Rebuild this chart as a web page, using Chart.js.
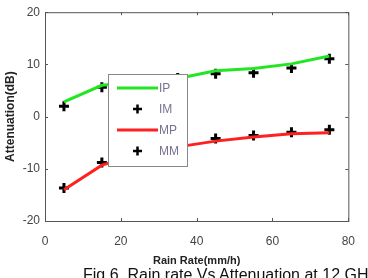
<!DOCTYPE html>
<html>
<head>
<meta charset="utf-8">
<script src="https://cdn.jsdelivr.net/npm/chart.js@4/dist/chart.umd.min.js"></script>
<style>
  body { margin: 0; background: #fff; width: 368px; height: 278px; overflow: hidden; position: relative; }
  #wrap { position: absolute; left: 0; top: 0; width: 368px; height: 278px; }
  #caption { position: absolute; left: 83px; top: 266px; font: 16px "Liberation Sans", Arial, sans-serif; color: #111; white-space: nowrap; }
</style>
</head>
<body>
<div id="wrap"><canvas id="rainChart" width="368" height="278"></canvas></div>
<div id="caption">Fig.6. Rain rate Vs Attenuation at 12 GHz</div>
<script>
// rain rate (mm/h)
const rainRates = [5, 15, 25, 35, 45, 55, 65, 75];
// attenuation (dB)
const ipValues = [2.8, 6.0, 6.7, 7.3, 8.8, 9.2, 10.1, 11.6];
const imValues = [2.0, 5.6, 6.5, 7.4, 8.2, 8.4, 9.3, 11.1];
const mpValues = [-14.0, -9.3, -7.2, -5.8, -4.7, -3.9, -3.3, -3.1];
const mmValues = [-13.7, -8.8, -6.9, -5.6, -4.2, -3.6, -3.0, -2.5];
const xTicks = [0, 20, 40, 60, 80];
const yTicks = [-20, -10, 0, 10, 20];

const toPoints = vals => vals.map((v, i) => ({ x: rainRates[i], y: v }));

const frameAndTicks = {
  id: 'frameAndTicks',
  afterDatasetsDraw(chart) {
    const { ctx, chartArea: a, scales: { x, y } } = chart;
    ctx.save();
    ctx.strokeStyle = '#555';
    ctx.lineWidth = 1;
    ctx.strokeRect(a.left + 0.5, a.top + 0.5, a.right - a.left, a.bottom - a.top);
    ctx.beginPath();
    xTicks.forEach(t => {
      const px = Math.round(x.getPixelForValue(t)) + 0.5;
      ctx.moveTo(px, a.bottom); ctx.lineTo(px, a.bottom - 3);
      ctx.moveTo(px, a.top); ctx.lineTo(px, a.top + 3);
    });
    yTicks.forEach(t => {
      const py = Math.round(y.getPixelForValue(t)) + 0.5;
      ctx.moveTo(a.left, py); ctx.lineTo(a.left + 3, py);
      ctx.moveTo(a.right, py); ctx.lineTo(a.right - 3, py);
    });
    ctx.stroke();
    ctx.restore();
  }
};

const boxLegend = {
  id: 'boxLegend',
  afterDraw(chart) {
    const { ctx } = chart;
    ctx.save();
    ctx.fillStyle = '#fff';
    ctx.fillRect(108, 74, 79, 92);
    ctx.strokeStyle = '#888';
    ctx.lineWidth = 1;
    ctx.strokeRect(108.5, 74.5, 79, 92);
    ctx.font = '12px "Liberation Sans", Arial, sans-serif';
    ctx.textBaseline = 'middle';
    const rows = [88, 109, 130, 151];
    chart.data.datasets.forEach((ds, i) => {
      const ry = rows[i];
      if (ds.showLine) {
        ctx.strokeStyle = ds.borderColor;
        ctx.lineWidth = 3;
        ctx.beginPath(); ctx.moveTo(117, ry); ctx.lineTo(158, ry); ctx.stroke();
      } else {
        ctx.strokeStyle = '#000';
        ctx.lineWidth = 2.5;
        ctx.beginPath();
        ctx.moveTo(133, ry); ctx.lineTo(142, ry);
        ctx.moveTo(137.5, ry - 4.5); ctx.lineTo(137.5, ry + 4.5);
        ctx.stroke();
      }
      ctx.fillStyle = '#7a7090';
      ctx.fillText(ds.label, 159, ry + 1);
    });
    ctx.restore();
  }
};

new Chart(document.getElementById('rainChart'), {
  type: 'scatter',
  data: {
    datasets: [
      { label: 'IP', data: toPoints(ipValues), showLine: true, borderColor: '#22e622', borderWidth: 3, pointRadius: 0 },
      { label: 'IM', data: toPoints(imValues), showLine: false, pointStyle: 'cross', pointRadius: 5, borderColor: '#000', borderWidth: 3 },
      { label: 'MP', data: toPoints(mpValues), showLine: true, borderColor: '#ff2020', borderWidth: 3, pointRadius: 0 },
      { label: 'MM', data: toPoints(mmValues), showLine: false, pointStyle: 'cross', pointRadius: 5, borderColor: '#000', borderWidth: 3 }
    ]
  },
  options: {
    responsive: false,
    animation: false,
    layout: { padding: { top: 11, right: 12, left: 0, bottom: 10 } },
    plugins: { legend: { display: false }, tooltip: { enabled: false } },
    scales: {
      x: {
        type: 'linear', min: 0, max: 80,
        afterFit: s => { s.height = 47; },
        afterBuildTicks: s => { s.ticks = xTicks.map(v => ({ value: v })); },
        grid: { display: false, drawTicks: false },
        border: { display: false },
        ticks: { color: '#444', padding: 13, font: { size: 12, family: '"Liberation Sans", Arial' } },
        title: { display: true, text: 'Rain Rate(mm/h)', color: '#222', padding: { top: 2, bottom: 0 }, font: { size: 11, weight: 'bold', family: '"Liberation Sans Narrow", "Liberation Sans", Arial' } }
      },
      y: {
        type: 'linear', min: -20, max: 20,
        afterFit: s => { s.width = 45; },
        afterBuildTicks: s => { s.ticks = yTicks.map(v => ({ value: v })); },
        grid: { display: false, drawTicks: false },
        border: { display: false },
        ticks: { color: '#444', padding: 5, font: { size: 12, family: '"Liberation Sans", Arial' } },
        title: { display: true, text: 'Attenuation(dB)', color: '#222', padding: { top: 3, bottom: 0 }, font: { size: 12, weight: 'bold', family: '"Liberation Sans Narrow", "Liberation Sans", Arial' } }
      }
    }
  },
  plugins: [frameAndTicks, boxLegend]
});
</script>
</body>
</html>
